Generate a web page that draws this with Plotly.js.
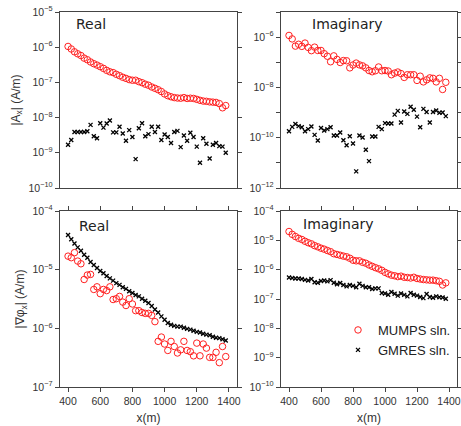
<!DOCTYPE html>
<html><head><meta charset="utf-8">
<script src="https://cdn.plot.ly/plotly-3.0.1.min.js"></script>
<style>html,body{margin:0;padding:0;background:#fff}#chart{width:461px;height:426px}</style>
</head><body><div id="chart"></div>
<script>
// positions along the profile (m)
const xPos = [400,420,440,460,480,500,520,540,560,580,600,620,640,660,680,700,720,740,760,780,
  800,820,840,860,880,900,920,940,960,980,1000,1020,1040,1060,1080,1100,1120,1140,1160,1180,
  1200,1220,1240,1260,1280,1300,1320,1340,1360,1380];

// |A_x| real part
const axRealMumps = [1.05e-6,8.9e-7,7.4e-7,6.5e-7,5.8e-7,4.9e-7,4.4e-7,3.8e-7,3.4e-7,3.1e-7,
  2.8e-7,2.5e-7,2.2e-7,2.0e-7,1.9e-7,1.7e-7,1.55e-7,1.4e-7,1.3e-7,1.2e-7,
  1.15e-7,1.15e-7,1.05e-7,9.8e-8,8.9e-8,8.3e-8,7.4e-8,6.8e-8,6.2e-8,5.5e-8,
  4.7e-8,4.2e-8,3.9e-8,3.7e-8,3.6e-8,3.55e-8,3.7e-8,3.5e-8,3.55e-8,3.5e-8,
  3.3e-8,3.1e-8,2.95e-8,2.9e-8,2.8e-8,2.75e-8,2.7e-8,2.5e-8,1.9e-8,2.2e-8];
const axRealGmres = [1.7e-9,2.3e-9,3.9e-9,3.9e-9,3.9e-9,3.9e-9,4.1e-9,6.2e-9,2.95e-9,2.6e-9,
  6.9e-9,5.2e-9,6.8e-9,8.3e-9,3.8e-9,3.8e-9,5.5e-9,3.55e-9,2.2e-9,4.4e-9,
  2.8e-9,6.6e-10,5.0e-9,6.9e-9,2.95e-9,3.4e-9,5.5e-9,3.9e-9,5.5e-9,2.3e-9,
  3.3e-9,2.8e-9,1.9e-9,3.9e-9,4.2e-9,1.45e-9,3.1e-9,2.2e-9,3.7e-9,2.8e-9,
  1.5e-9,5.2e-10,2.6e-9,1.8e-9,6.9e-10,1.7e-9,1.9e-9,1.55e-9,1.5e-9,1.0e-9];

// |A_x| imaginary part
const axImagMumps = [1.17e-6,8.5e-7,4.4e-7,5.2e-7,4.3e-7,5.8e-7,3.9e-7,2.9e-7,4.0e-7,2.95e-7,
  2.95e-7,2.2e-7,1.74e-7,1.05e-7,1.8e-7,1.3e-7,9.8e-8,1.17e-7,1.15e-7,6.0e-8,
  7.8e-8,9.3e-8,7.9e-8,7.2e-8,6.0e-8,4.7e-8,4.2e-8,4.6e-8,6.5e-8,4.6e-8,
  4.7e-8,4.5e-8,3.2e-8,3.7e-8,4.1e-8,3.55e-8,2.5e-8,3.2e-8,3.2e-8,3.2e-8,
  1.9e-8,2.8e-8,1.66e-8,2.0e-8,2.4e-8,2.3e-8,1.66e-8,2.3e-8,8.3e-9,1.6e-8];
const axImagGmres = [1.8e-10,2.7e-10,3.5e-10,2.9e-10,2.6e-10,1.8e-10,2.2e-10,2.8e-10,1.3e-10,7.8e-11,
  2.45e-10,1.95e-10,2.2e-10,2.6e-10,1.23e-10,1.23e-10,1.6e-10,7.9e-11,5.0e-11,1.15e-10,
  5.9e-11,4.6e-12,1.23e-10,1.02e-10,3.3e-11,1.17e-11,1.12e-10,1.12e-10,2.7e-10,2.2e-10,
  3.8e-10,3.7e-10,3.7e-10,8.3e-10,1.17e-9,4.0e-10,1.1e-9,8.9e-10,1.7e-9,1.3e-9,
  6.9e-10,2.6e-10,1.4e-9,1.05e-9,4.0e-10,1.05e-9,1.2e-9,9.8e-10,1.0e-9,7.2e-10];

// |grad phi_x| real part
const gpRealMumps = [1.7e-5,1.6e-5,1.95e-5,1.4e-5,1.26e-5,6.8e-6,8.1e-6,8.3e-6,4.6e-6,5.1e-6,
  3.9e-6,4.6e-6,4.4e-6,5.1e-6,3.1e-6,3.2e-6,3.5e-6,2.8e-6,2.45e-6,3.2e-6,
  2.6e-6,2.0e-6,2.0e-6,1.86e-6,1.8e-6,1.8e-6,1.66e-6,1.3e-6,6.0e-7,7.1e-7,
  5.4e-7,4.2e-7,6.0e-7,4.9e-7,3.8e-7,4.3e-7,6.0e-7,4.2e-7,4.0e-7,3.4e-7,
  5.6e-7,3.4e-7,5.4e-7,4.6e-7,3.2e-7,3.2e-7,3.9e-7,2.6e-7,4.9e-7,3.3e-7];
const gpRealGmres = [3.9e-5,3.3e-5,2.8e-5,2.4e-5,2.1e-5,1.8e-5,1.6e-5,1.35e-5,1.2e-5,1.07e-5,
  9.5e-6,8.7e-6,7.8e-6,7.1e-6,6.5e-6,5.9e-6,5.5e-6,5.0e-6,4.7e-6,4.3e-6,
  4.0e-6,3.7e-6,3.5e-6,3.2e-6,2.95e-6,2.7e-6,2.4e-6,2.1e-6,1.86e-6,1.6e-6,
  1.4e-6,1.23e-6,1.15e-6,1.1e-6,1.07e-6,1.07e-6,1.02e-6,9.8e-7,9.5e-7,9.1e-7,
  8.7e-7,8.5e-7,8.1e-7,7.8e-7,7.6e-7,7.2e-7,6.9e-7,6.8e-7,6.5e-7,6.2e-7];

// |grad phi_x| imaginary part
const gpImagMumps = [2.0e-5,1.6e-5,1.35e-5,1.17e-5,1.07e-5,9.3e-6,8.3e-6,7.6e-6,6.6e-6,6.0e-6,
  5.4e-6,5.0e-6,4.5e-6,4.1e-6,3.5e-6,3.3e-6,3.1e-6,2.9e-6,2.75e-6,2.45e-6,
  2.1e-6,2.0e-6,2.0e-6,1.78e-6,1.66e-6,1.45e-6,1.3e-6,1.17e-6,1.07e-6,9.5e-7,
  8.1e-7,7.2e-7,6.5e-7,6.2e-7,5.8e-7,6.0e-7,5.5e-7,5.4e-7,5.2e-7,5.5e-7,
  5.0e-7,4.8e-7,4.6e-7,4.5e-7,4.4e-7,4.4e-7,4.2e-7,4.0e-7,3.0e-7,3.55e-7];
const gpImagGmres = [5.4e-7,5.2e-7,5.0e-7,5.0e-7,4.8e-7,4.5e-7,4.3e-7,4.8e-7,3.7e-7,3.6e-7,
  4.1e-7,4.3e-7,4.0e-7,4.4e-7,3.6e-7,3.2e-7,3.5e-7,3.0e-7,2.7e-7,3.0e-7,
  2.8e-7,2.5e-7,3.3e-7,2.8e-7,2.5e-7,2.5e-7,2.2e-7,2.3e-7,2.3e-7,1.6e-7,
  1.55e-7,1.4e-7,1.74e-7,1.5e-7,1.3e-7,1.55e-7,1.38e-7,1.23e-7,1.6e-7,1.4e-7,
  1.3e-7,1.17e-7,1.07e-7,1.48e-7,1.17e-7,1.1e-7,1.23e-7,1.15e-7,1.12e-7,1.02e-7];

const panelLabels = ['Real', 'Imaginary', 'Real', 'Imaginary'];
const seriesNames = ['MUMPS sln.', 'GMRES sln.'];
const xTickVals = [400, 600, 800, 1000, 1200, 1400];
const yTitleTop = '|A<sub>x</sub>| (A/m)';
const yTitleBottom = '|∇φ<sub>x</sub>| (A/m)';
const xTitle = 'x(m)';

const RED = '#ff2020';
const W = 461, H = 426;
const mumpsMarker = {symbol: 'circle-open', size: 6.5, color: RED, line: {width: 1, color: RED}};
const gmresMarker = {symbol: 'x-thin-open', size: 4, color: '#000', line: {width: 1.3, color: '#000'}};

const panels = [
  {xa: 'x', ya: 'y', m: axRealMumps, g: axRealGmres},
  {xa: 'x2', ya: 'y2', m: axImagMumps, g: axImagGmres},
  {xa: 'x3', ya: 'y3', m: gpRealMumps, g: gpRealGmres},
  {xa: 'x4', ya: 'y4', m: gpImagMumps, g: gpImagGmres}
];
const traces = [];
panels.forEach((p, i) => {
  traces.push({x: xPos, y: p.m, xaxis: p.xa, yaxis: p.ya, type: 'scatter', mode: 'markers',
    name: seriesNames[0], marker: mumpsMarker, showlegend: i === 3, legendrank: 1});
  traces.push({x: xPos, y: p.g, xaxis: p.xa, yaxis: p.ya, type: 'scatter', mode: 'markers',
    name: seriesNames[1], marker: gmresMarker, showlegend: i === 3, legendrank: 2});
});

const FONT = 'Liberation Sans, Arial, sans-serif';
const tickFont = {family: FONT, size: 10.5, color: '#333'};
const titleFont = {family: FONT, size: 12, color: '#333'};
const LINE = '#444';
function px2x(a, b) { return [a / W, b / W]; }
function px2y(top, bottom) { return [1 - bottom / H, 1 - top / H]; }

function xAxis(dom, anchor, bottomRow) {
  return {domain: dom, anchor: anchor, range: [350, 1450], showgrid: false, zeroline: false,
    showline: true, linecolor: LINE, linewidth: 1.3,
    mirror: bottomRow ? 'ticks' : true,
    ticks: bottomRow ? 'outside' : '', ticklen: 4, tickwidth: 1, tickcolor: LINE,
    tickmode: 'array', tickvals: xTickVals, showticklabels: bottomRow, tickfont: tickFont,
    title: bottomRow ? {text: xTitle, font: titleFont, standoff: 7} : undefined
  };
}
function decades(lo, hi, step, offset) {
  const vals = [], txt = [];
  for (let e = lo + offset; e <= hi; e += step) {
    vals.push(Math.pow(10, e));
    txt.push('10<sup>' + (e < 0 ? '\u2212' + (-e) : e) + '</sup>');
  }
  return {vals, txt};
}
function yAxis(dom, anchor, lo, hi, every, title) {
  const t = decades(lo, hi, every, 0);
  const ax = {domain: dom, anchor: anchor, type: 'log', range: [lo, hi], showgrid: false, zeroline: false,
    showline: true, linecolor: LINE, linewidth: 1.3, mirror: 'ticks',
    ticks: 'outside', ticklen: 4, tickwidth: 1, tickcolor: LINE,
    tickmode: 'array', tickvals: t.vals, ticktext: t.txt, tickfont: tickFont,
    title: title ? {text: title, font: titleFont, standoff: 5} : undefined
  };
  if (every > 1) {
    const m = decades(lo, hi, every, 1);
    ax.minor = {tickmode: 'array', tickvals: m.vals, ticks: 'outside', ticklen: 4, tickwidth: 1, tickcolor: LINE, showgrid: false};
  }
  return ax;
}

const colL = px2x(60, 237), colR = px2x(281, 457);
const rowT = px2y(12, 188), rowB = px2y(211, 387);

const annFont = {family: 'DejaVu Sans, sans-serif', size: 14, color: '#222'};
const annPos = [[74, 24], [310, 24], [77, 226], [301, 224]];
const annotations = panelLabels.map((t, i) => ({
  text: t, xref: 'paper', yref: 'paper', x: annPos[i][0] / W, y: 1 - annPos[i][1] / H,
  xanchor: 'left', yanchor: 'middle', showarrow: false, font: annFont
}));

const layout = {
  width: W, height: H, margin: {l: 0, r: 0, t: 0, b: 0},
  paper_bgcolor: '#fff', plot_bgcolor: '#fff',
  xaxis: xAxis(colL, 'y', false),
  yaxis: yAxis(rowT, 'x', -10, -5, 1, yTitleTop),
  xaxis2: xAxis(colR, 'y2', false),
  yaxis2: yAxis(rowT, 'x2', -12, -5, 2, null),
  xaxis3: xAxis(colL, 'y3', true),
  yaxis3: yAxis(rowB, 'x3', -7, -4, 1, yTitleBottom),
  xaxis4: xAxis(colR, 'y4', true),
  yaxis4: yAxis(rowB, 'x4', -10, -4, 1, null),
  showlegend: true,
  legend: {x: 338 / W, y: 1 - 315 / H, xanchor: 'left', yanchor: 'top', bgcolor: 'rgba(0,0,0,0)',
    font: {family: FONT, size: 13, color: '#222'}, tracegroupgap: 0, itemwidth: 30},
  annotations: annotations
};

Plotly.newPlot('chart', traces, layout, {staticPlot: true, displayModeBar: false});
</script>
</body></html>
